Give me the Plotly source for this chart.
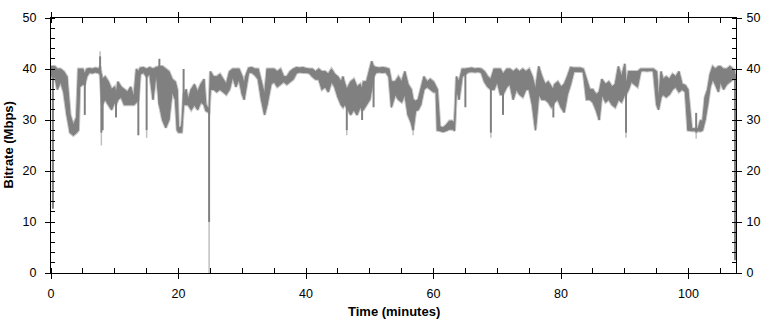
import plotly.graph_objects as go

# ---- data (time in minutes, bitrate in Mbps) ----
# envelope of the trace (local low / high at each sample)
time_min = [0.0, 0.3, 0.6, 1.0, 1.5, 2.0, 2.5, 3.0, 3.5, 4.0, 4.3, 4.5, 5.0, 5.3, 5.6, 6.0, 6.5, 7.0, 7.5, 7.7,
            8.0, 8.5, 9.0, 9.5, 10.0, 10.2, 10.5, 11.0, 11.5, 12.0, 12.5, 13.0, 13.4, 13.7, 14.0, 14.5, 15.0, 15.5, 16.0, 16.5,
            17.0, 17.5, 18.0, 18.5, 19.0, 19.5, 19.8, 20.0, 20.5, 20.8, 21.2, 21.5, 22.0, 22.5, 23.0, 23.5, 24.0, 24.3, 24.6, 24.8,
            25.0, 25.5, 26.0, 26.5, 27.0, 27.5, 28.0, 28.5, 29.0, 29.5, 30.0, 30.3, 30.5, 31.0, 31.5, 32.0, 32.5, 33.0, 33.5, 33.9,
            34.5, 35.0, 35.5, 36.0, 36.5, 37.0, 37.5, 38.0, 38.5, 39.0, 39.5, 40.0, 40.5, 41.0, 41.5, 42.0, 42.5, 43.0, 43.5, 44.0,
            44.5, 45.0, 45.5, 45.8, 46.0, 46.4, 47.0, 47.5, 48.0, 48.5, 48.8, 49.0, 49.5, 50.0, 50.3, 50.6, 51.0, 51.5, 52.0, 52.5,
            53.0, 53.4, 54.0, 54.5, 55.0, 55.5, 56.0, 56.5, 56.8, 57.2, 57.6, 58.0, 58.5, 59.0, 59.5, 60.0, 60.4, 60.6, 61.0, 61.5,
            62.0, 62.5, 63.0, 63.3, 63.6, 64.0, 64.5, 65.0, 65.5, 66.0, 66.5, 67.0, 67.5, 68.0, 68.5, 69.0, 69.5, 70.0, 70.5, 70.9,
            71.5, 72.0, 72.5, 73.0, 73.5, 74.0, 74.5, 75.0, 75.5, 76.0, 76.5, 77.0, 77.5, 78.0, 78.5, 78.8, 79.0, 79.5, 80.0, 80.5,
            81.0, 81.5, 82.0, 82.5, 83.0, 83.5, 84.0, 84.5, 85.0, 85.5, 86.0, 86.4, 87.0, 87.5, 88.0, 88.5, 89.0, 89.5, 90.0, 90.2,
            90.6, 91.0, 91.5, 92.0, 92.5, 93.0, 93.5, 94.0, 94.5, 95.0, 95.3, 95.7, 96.0, 96.5, 97.0, 97.5, 98.0, 98.5, 99.0, 99.5,
            99.9, 100.5, 101.0, 101.2, 101.5, 101.9, 102.2, 102.6, 103.0, 103.4, 103.8, 104.2, 104.7, 105.0, 105.5, 106.0, 106.5, 107.0, 107.3]

rate_low = [39.0, 38.0, 38.5, 36.0, 37.5, 35.5, 31.0, 27.5, 27.0, 27.5, 28.0, 36.5, 37.0, 37.0, 38.5, 39.3, 39.2, 39.4, 39.2, 39.0,
            33.0, 34.0, 33.0, 32.0, 33.5, 33.0, 34.0, 34.5, 33.0, 33.0, 33.0, 33.0, 33.5, 34.0, 39.0, 39.3, 38.5, 39.0, 34.0, 39.2,
            33.0, 30.0, 28.5, 30.0, 35.5, 34.0, 28.0, 27.6, 27.6, 33.0, 33.0, 33.0, 32.0, 33.0, 32.0, 33.5, 33.0, 31.8, 31.6, 31.5,
            36.0, 36.0, 35.5, 36.0, 35.5, 35.0, 36.0, 38.5, 36.5, 38.0, 35.0, 34.0, 35.5, 39.3, 39.3, 38.8, 38.0, 34.0, 31.0, 33.0,
            37.0, 37.5, 36.5, 37.0, 37.5, 37.0, 37.5, 38.0, 39.2, 39.4, 39.3, 39.3, 39.2, 38.5, 38.0, 38.0, 36.0, 36.5, 35.5, 37.5,
            36.5, 34.5, 33.0, 32.5, 33.0, 32.5, 31.0, 32.0, 31.0, 32.5, 32.0, 32.0, 33.0, 34.0, 36.0, 38.5, 39.3, 39.4, 39.3, 39.4,
            38.5, 32.5, 35.0, 34.0, 33.5, 35.0, 31.0, 29.5, 28.0, 31.8, 32.0, 33.0, 36.0, 36.5, 36.0, 35.5, 35.5, 28.0, 27.9, 27.7,
            27.9, 28.2, 28.2, 27.9, 36.0, 34.0, 38.5, 39.0, 39.4, 39.5, 39.4, 39.5, 39.3, 37.5, 36.5, 36.0, 36.0, 37.5, 35.0, 35.0,
            36.5, 37.0, 34.0, 36.0, 35.0, 34.5, 36.0, 36.0, 33.0, 28.0, 35.0, 34.0, 34.0, 33.5, 32.5, 33.0, 33.5, 34.0, 32.5, 31.5,
            35.0, 37.0, 39.5, 39.5, 39.5, 39.4, 34.0, 34.0, 33.5, 32.0, 30.0, 35.0, 33.5, 34.0, 33.0, 32.5, 34.0, 33.5, 35.0, 35.0,
            36.0, 37.5, 37.0, 36.5, 39.6, 39.7, 39.6, 39.7, 39.6, 33.0, 32.0, 34.5, 35.0, 34.5, 35.0, 36.0, 36.5, 35.5, 36.0, 35.5,
            28.0, 27.9, 27.9, 27.6, 27.9, 27.8, 28.0, 30.0, 33.0, 36.5, 38.0, 37.0, 35.5, 37.5, 36.0, 37.0, 37.5, 38.0, 38.0]

rate_high = [40.5, 40.5, 40.5, 40.0, 40.0, 39.5, 38.5, 31.0, 29.0, 30.5, 40.0, 40.0, 40.0, 39.0, 40.0, 40.1, 40.0, 40.2, 40.0, 40.5,
             38.0, 38.5, 37.5, 36.0, 36.5, 35.0, 37.5, 36.5, 36.0, 35.5, 36.5, 34.5, 40.0, 39.5, 40.2, 40.3, 40.0, 40.3, 40.0, 40.3,
             40.5, 40.5, 40.0, 39.5, 38.0, 37.5, 36.0, 28.4, 28.8, 35.0, 36.0, 34.0, 36.0, 37.0, 35.5, 37.0, 38.0, 33.0, 32.4, 32.3,
             39.5, 38.5, 38.5, 39.0, 38.0, 37.0, 39.5, 40.0, 40.0, 40.0, 38.5, 37.0, 38.5, 40.2, 40.3, 40.0, 40.0, 37.5, 35.0, 40.0,
             40.0, 40.0, 39.5, 40.0, 38.5, 38.5, 39.5, 40.0, 40.3, 40.2, 40.3, 40.1, 40.0, 40.0, 39.5, 40.0, 39.5, 39.5, 39.0, 40.0,
             39.0, 38.5, 37.5, 38.5, 37.5, 36.0, 37.5, 38.0, 36.5, 37.0, 36.0, 37.5, 37.5, 40.0, 41.5, 40.5, 40.3, 40.2, 40.3, 40.2,
             40.0, 37.5, 37.5, 38.5, 37.5, 39.5, 37.0, 36.0, 34.0, 33.7, 34.0, 36.0, 38.5, 37.5, 38.0, 37.5, 36.5, 36.0, 28.7, 28.5,
             29.0, 29.8, 29.8, 29.3, 38.5, 37.5, 40.0, 40.0, 40.1, 40.2, 40.0, 40.1, 40.0, 39.5, 38.5, 38.0, 40.0, 40.0, 40.0, 39.0,
             40.0, 40.0, 39.5, 40.0, 39.5, 40.0, 39.5, 40.0, 38.5, 36.0, 40.5, 38.5, 37.0, 37.5, 36.5, 36.0, 37.0, 37.5, 36.5, 37.0,
             38.5, 40.3, 40.2, 40.2, 40.2, 40.0, 38.0, 36.0, 36.0, 35.0, 35.5, 38.0, 37.0, 37.5, 36.5, 37.0, 40.5, 38.5, 41.0, 37.0,
             39.5, 39.5, 39.5, 39.5, 40.0, 40.0, 40.0, 40.0, 40.0, 39.5, 34.0, 39.5, 38.0, 38.5, 38.0, 39.0, 38.5, 39.5, 37.0, 36.8,
             36.0, 28.3, 28.3, 28.3, 28.3, 30.0, 29.5, 34.5, 36.0, 39.0, 40.5, 40.0, 40.5, 40.5, 40.0, 40.0, 40.5, 40.0, 39.5]

# narrow dark spikes / dips
spike_time = [0.3, 5.3, 7.7, 7.9, 8.1, 10.2, 13.7, 15.0, 17.0, 20.8, 24.8, 46.4, 48.8, 50.6, 65.0,
              69.0, 70.9, 78.8, 90.2, 101.2, 107.3]
spike_low = [12.6, 31.0, 39.0, 27.5, 28.0, 30.5, 27.0, 28.0, 33.0, 33.0, 10.0, 28.0, 30.0, 32.5, 32.5,
             27.5, 31.0, 30.5, 27.5, 28.0, 2.5]
spike_high = [39.0, 38.0, 42.5, 39.0, 36.0, 34.0, 39.0, 39.0, 42.0, 40.0, 32.0, 34.0, 33.0, 39.0, 39.5,
              37.0, 36.0, 34.0, 36.0, 31.4, 39.0]

# light-grey excursions that reach beyond the dark trace
peak_time = [7.7, 7.9, 15.0, 24.8, 46.4, 56.8, 69.0, 90.2, 101.2]
peak_low = [42.5, 25.0, 26.5, 0.0, 27.0, 27.0, 26.5, 26.5, 26.3]
peak_high = [43.5, 27.5, 28.0, 10.0, 28.0, 28.0, 27.5, 27.5, 27.5]

x_ticks = [0, 20, 40, 60, 80, 100]
y_ticks = [0, 10, 20, 30, 40, 50]
X_MAX = 107.45

DARK = "#808080"
LIGHT = "#c8c8c8"


def strokes(ts, lows, highs):
    xs, ys = [], []
    for t, lo, hi in zip(ts, lows, highs):
        xs += [t, t, None]
        ys += [lo, hi, None]
    return xs, ys


vx, vy = strokes(time_min, rate_low, rate_high)
sx, sy = strokes(spike_time, spike_low, spike_high)
px, py = strokes(peak_time, peak_low, peak_high)

fig = go.Figure()
# light halo around the envelope
fig.add_trace(go.Scatter(x=time_min, y=rate_low, mode="lines", line=dict(color=LIGHT, width=3, simplify=False),
                         hoverinfo="skip", showlegend=False))
fig.add_trace(go.Scatter(x=time_min, y=rate_high, mode="lines", line=dict(color=LIGHT, width=3, simplify=False),
                         hoverinfo="skip", showlegend=False))
fig.add_trace(go.Scatter(x=px, y=py, mode="lines", line=dict(color="#c0c0c0", width=1.5, simplify=False),
                         hoverinfo="skip", showlegend=False, connectgaps=False))
# dark band between low and high
fig.add_trace(go.Scatter(x=time_min, y=rate_low, mode="lines", line=dict(color=DARK, width=1, simplify=False),
                         showlegend=False))
fig.add_trace(go.Scatter(x=time_min, y=rate_high, mode="lines", line=dict(color=DARK, width=1, simplify=False),
                         fill="tonexty", fillcolor=DARK, showlegend=False))
fig.add_trace(go.Scatter(x=vx, y=vy, mode="lines", line=dict(color=DARK, width=1, simplify=False),
                         hoverinfo="skip", showlegend=False, connectgaps=False))
fig.add_trace(go.Scatter(x=sx, y=sy, mode="lines", line=dict(color=DARK, width=2, simplify=False),
                         hoverinfo="skip", showlegend=False, connectgaps=False))
fig.add_trace(go.Scatter(x=[], y=[], yaxis="y2", showlegend=False))

tickfont = dict(family="Liberation Sans, Arial, sans-serif", size=12.5, color="#000000")

fig.update_layout(
    width=771, height=320,
    margin=dict(l=51, r=29.5, t=11, b=47),
    paper_bgcolor="white", plot_bgcolor="white",
    xaxis=dict(range=[0, X_MAX], tickvals=x_ticks, ticktext=[str(v) for v in x_ticks],
               showgrid=False, zeroline=False, showline=True, linecolor="black", linewidth=1,
               mirror="allticks", ticks="outside", ticklen=5, tickcolor="black",
               minor=dict(dtick=5, tick0=0, ticks="inside", ticklen=3, tickcolor="black", showgrid=False),
               tickfont=tickfont, ticklabelstandoff=4),
    yaxis=dict(range=[0, 50], tickvals=y_ticks, ticktext=[str(v) for v in y_ticks],
               showgrid=False, zeroline=False, showline=True, linecolor="black", linewidth=1,
               ticks="outside", ticklen=5, tickcolor="black",
               minor=dict(dtick=2, tick0=0, ticks="inside", ticklen=4, tickcolor="black", showgrid=False),
               tickfont=tickfont, ticklabelstandoff=6),
    yaxis2=dict(range=[0, 50], tickvals=y_ticks, ticktext=[str(v) for v in y_ticks],
                overlaying="y", side="right", anchor="x",
                showgrid=False, zeroline=False, showline=True, linecolor="black", linewidth=1,
                ticks="outside", ticklen=5, tickcolor="black",
                minor=dict(dtick=2, tick0=0, ticks="inside", ticklen=4, tickcolor="black", showgrid=False),
                tickfont=tickfont, ticklabelstandoff=2),
    annotations=[
        dict(text="<b>Time (minutes)</b>", xref="paper", yref="paper", x=0.5, y=0,
             xanchor="center", yanchor="middle", yshift=-38, showarrow=False,
             font=dict(family="Liberation Sans, Arial, sans-serif", size=13, color="#000000")),
        dict(text="<b>Bitrate (Mbps)</b>", xref="paper", yref="paper", x=0, y=0.5,
             xanchor="center", yanchor="middle", xshift=-43, textangle=-90, showarrow=False,
             font=dict(family="Liberation Sans, Arial, sans-serif", size=13, color="#000000")),
    ],
)

fig.write_html("out.html", config={"displayModeBar": False},
               post_script="document.body.style.margin='0';")
